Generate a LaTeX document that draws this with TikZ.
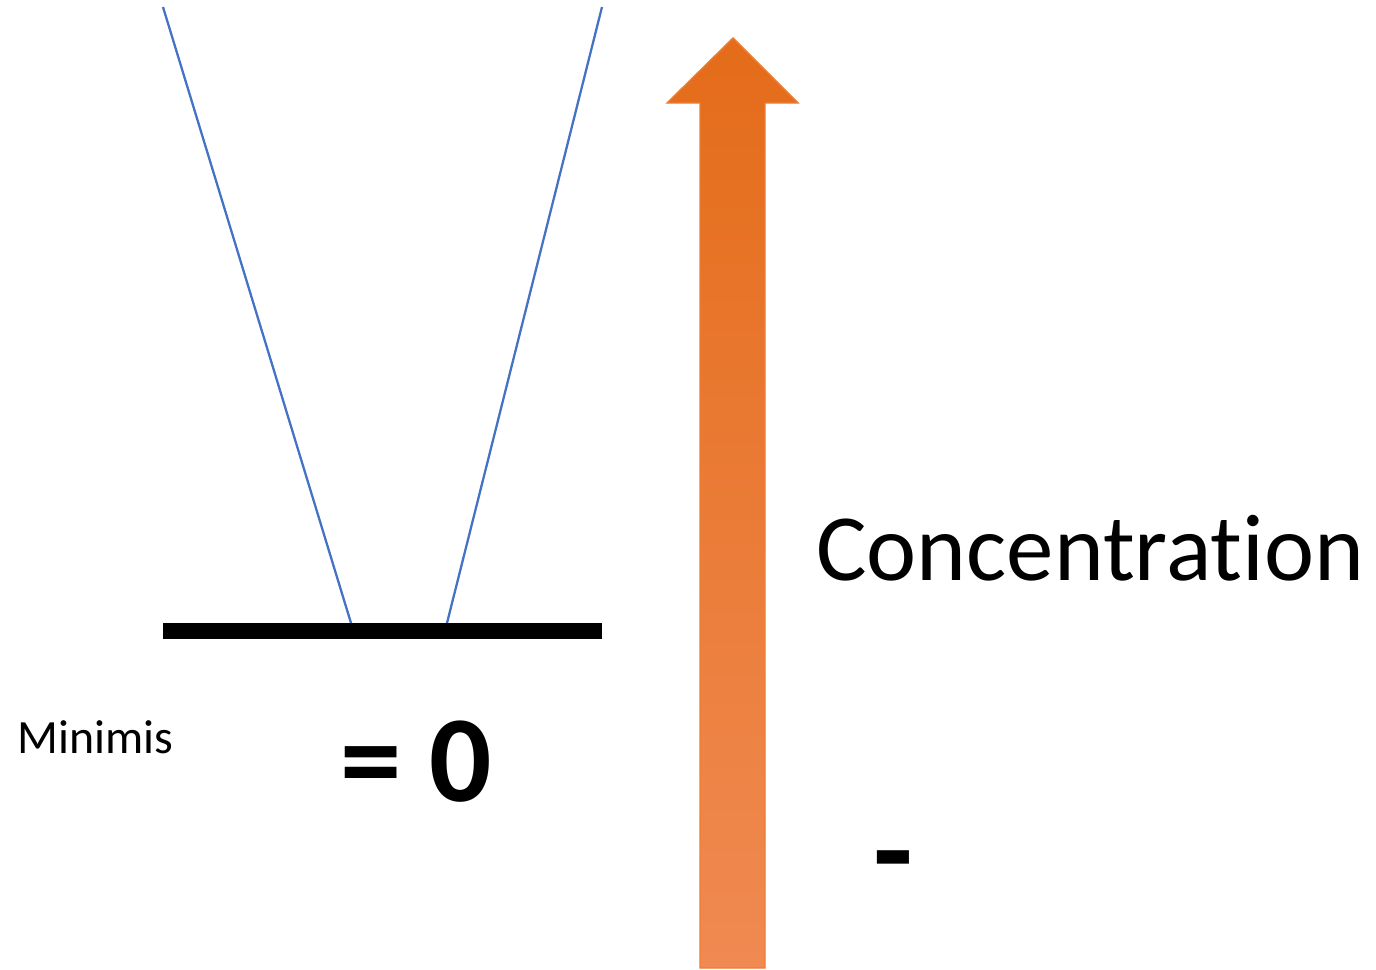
\documentclass[tikz,border=0pt]{standalone}
\usepackage{fontspec}
\setmainfont[Ligatures=NoCommon]{Carlito}
\usepackage{tikz}
\usepackage{xcolor}

\definecolor{arrowtop}{RGB}{228,108,26}
\definecolor{arrowbot}{RGB}{240,138,82}
\definecolor{arrowrim}{RGB}{237,125,49}
\definecolor{lineblue}{RGB}{68,114,196}

\begin{document}
\begin{tikzpicture}[x=0.02cm,y=-0.02cm]
  \useasboundingbox (0,0) rectangle (1376,970);
  % the bar and the two blue lines
  \coordinate (barl) at (163,631);
  \coordinate (barr) at (602,631);
  \coordinate (vl) at (351,623);
  \coordinate (vr) at (447,623);
  \coordinate (topl) at (163,7);
  \coordinate (topr) at (602,7);
  \draw[lineblue,line width=1.3pt] (topl) -- (vl);
  \draw[lineblue,line width=1.3pt] (topr) -- (vr);
  \draw[line width=9pt] (barl) -- (barr);
  % orange arrow
  \shade[top color=arrowtop,bottom color=arrowbot,draw=arrowrim,line width=0.8pt]
    (733,38) -- (798,103) -- (765,103) -- (765,968) -- (700,968) -- (700,103) -- (667,103) -- cycle;
  % texts
  \node[anchor=west,font=\fontsize{27.2}{30}\selectfont,inner sep=0pt] (minimis) at (17,737) {Minimis};
  \node[font=\fontsize{70}{72}\selectfont\bfseries,inner sep=0pt] (zero) at (416,762) {= 0};
  \node[anchor=west,font=\fontsize{54}{60}\selectfont,inner sep=0pt] (conc) at (816,548) {Concentration};
  \node[font=\fontsize{74}{76}\selectfont\bfseries,inner sep=0pt] (minus) at (893,873) {-};
\end{tikzpicture}
\end{document}
